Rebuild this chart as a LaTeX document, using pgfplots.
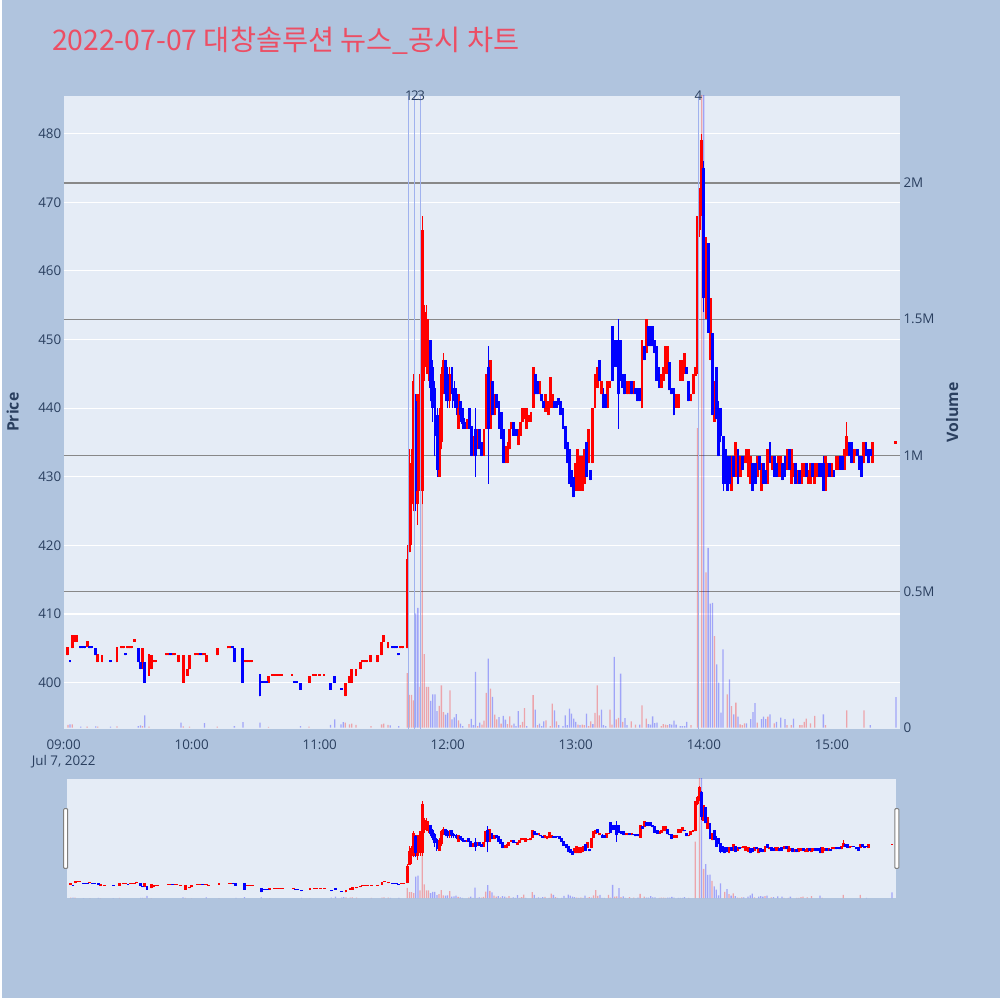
\documentclass[border=0pt]{standalone}
\usepackage{fontspec}
\setmainfont{Open Sans}
\newfontfamily\krfont{Noto Sans CJK KR}
\usepackage{pgfplots}
\usepackage{pgfplotstable}
\pgfplotsset{compat=1.18}
\definecolor{outerbg}{RGB}{176,196,222}
\definecolor{plotbg}{RGB}{229,236,246}
\definecolor{tickcol}{RGB}{42,63,95}
\definecolor{titlecol}{RGB}{236,78,100}
\definecolor{vgrid}{RGB}{136,136,136}
\definecolor{annot}{RGB}{160,178,238}

\pgfplotstableread{
m o h l c
2 404 405.2 404 405.2
4 405 407 405 407
5 406 407 406 407
6 406 407 406 407
11 405.2 406.1 405.2 406.1
16 403 404.2 403 404.2
18 403 404 403 404
25 403 405.2 403 405.2
27 405 405.3 405 405.3
28 405 405.3 405 405.3
30 405 405.3 405 405.3
31 405 405.3 405 405.3
32 405 405.3 405 405.3
33 406 406.3 406 406.3
37 402 405 402 405
40 401 404.2 401 404.2
41 402 404 402 404
42 403 403.3 403 403.3
43 403 403.3 403 403.3
48 404 404.3 404 404.3
49 404 404.3 404 404.3
51 404 404.3 404 404.3
52 404 404.3 404 404.3
54 403 404 403 404
56 400 404 400 404
58 401 402 401 402
59 402 404 402 404
62 404 404.3 404 404.3
63 404 404.3 404 404.3
65 404 404.3 404 404.3
66 404 404.3 404 404.3
67 403 404 403 404
72 404 405 404 405
77 405 405.3 405 405.3
78 405 405.3 405 405.3
85 403 403.3 403 403.3
86 403 403.3 403 403.3
87 403 403.3 403 403.3
88 403 403.3 403 403.3
96 400 401 400 401
98 401 401.3 401 401.3
99 401 401.3 401 401.3
100 401 401.3 401 401.3
101 401 401.3 401 401.3
102 401 401.3 401 401.3
107 401 401.3 401 401.3
115 400 401 400 401
117 401 401.3 401 401.3
118 401 401.3 401 401.3
120 401 401.3 401 401.3
122 401 401.3 401 401.3
132 398 400 398 400
134 400 401 400 401
135 400 402 400 402
137 401 402 401 402
139 402 403 402 403
140 403 403.3 403 403.3
141 403 403.3 403 403.3
142 403 403.3 403 403.3
144 403 404 403 404
147 403 404 403 404
149 404 406 404 406
150 406 407 406 407
152 405 406 405 406
158 405 405.3 405 405.3
159 405 405.3 405 405.3
161 405 420 405 418
162 419 434 419 430
163 426 434 420 432
164 426 445 425 444
166 426 442 423 442
167 428 445 426 445
168 428 468 426 466
169 446 455 444 454
170 446 455 445 453
171 445 453 444 450
176 430 440 430 438
177 435 446 434 445
178 443 448 442 447
181 441 446 440 445
185 437 442 437 442
189 437 438.4 437 438.4
192 433 436 433 436
194 434 437 434 437
197 433 437 433 437
198 437 445 437 445
200 437 447 437 447
202 439 442 439 442
207 432 434.5 432 434.5
208 432 435 432 434.5
209 434 437 434 437
210 437 438 437 438
213 434.6 437 434.6 437
214 436 438 436 438
215 438 440 438 440
216 438.4 440 438.4 440
217 437 440 437 440
218 438 439 438 439
219 438 439.5 438 439.5
220 440 446 440 446
223 442 444 442 444
226 439.5 442 439.5 442
227 439 441 439 441
228 440 444.6 440 444.6
229 440 442 440 442
240 428 432 428 432
241 428 434 428 434
242 428 433 428 433
243 428 433 428 433
244 429 434 429 434
246 432 437 432 437
248 432 440 432 440
249 440 445 440 445
250 443 446 443 446
252 442 444 442 444
255 440 444 440 444
256 443 444 443 444
264 442 444 442 444
265 442 444 442 444
267 442 444 442 444
271 440 450 440 450
273 448 453 448 453
280 443 445 443 445
281 444 446 444 446
282 445 449 445 449
283 445 449 445 449
287 440 442 440 442
288 440 442 440 442
289 444 447 444 447
290 444 447 444 447
291 445 448 445 448
294 441 442 441 442
295 442 445 442 445
296 444.7 446 444.7 446
297 445 468 445 468
298 466 472 465 471
299 471 480 468 479
301 453 465 453 465
303 447 456 447 456
305 438 444 438 444
313 428 433 428 433
315 430 435 430 435
317 430 433 430 433
319 432 433 432 433
320 432 434 432 434
321 430 434 430 434
322 429 433 429 433
325 430 433 430 433
327 428 432 428 432
330 429 434 429 434
332 431 433 431 433
335 430 433 430 433
336 430 433 430 433
339 431 434 431 434
341 429 434 429 434
342 430 432 430 432
344 429 431 429 431
346 429 432 429 432
347 430 432 430 432
349 429 431 429 431
350 429 432 429 432
352 429 432 429 432
353 430 432 430 432
357 428 433 428 433
358 430 432 430 432
360 430 432 430 432
362 431 433 431 433
363 431 433 431 433
366 431 434 431 434
367 433 438 433 436
370 432 434 432 434
371 433 434 433 434
375 432 435 432 435
379 432 435 432 435
390 434.8 435.2 434.8 435.2
}\candR

\pgfplotstableread{
m o h l c
3 403.3 403.3 403 403
8 405.3 405.3 405 405
9 405.3 405.3 405 405
10 405.3 405.3 405 405
12 405.3 405.3 405 405
13 405.3 405.3 405 405
15 405 405 404 404
22 403.3 403.3 403 403
29 404.3 404.3 404 404
35 405 405 403 403
36 403 403 402 402
38 403 403 400 400
50 404.3 404.3 404 404
64 404.3 404.3 404 404
79 405.3 405.3 405 405
80 405 405 403 403
84 405 405 400 400
92 401.2 401.2 398 398
93 400.3 400.3 400 400
94 400.3 400.3 400 400
95 400.3 400.3 400 400
108 400.3 400.3 400 400
109 400.3 400.3 400 400
111 400 400 399 399
125 400 400 399 399
127 401 401 400 400
130 399.3 399.3 399 399
154 405.3 405.3 405 405
155 405.3 405.3 405 405
156 405.3 405.3 405 405
157 404.3 404.3 404 404
165 441 442 425 428
172 450 450 441 443
173 446 447 438 440
174 443 444 433 436
175 439 440 430 431
179 447 447 441 442
180 445 446 440 441
182 446 446 440 442
183 443 444 440 441
184 442 443 439 440
186 441 441 438 439
187 440 440 437 437.7
188 438 438.5 437 437
190 440 440 437 437
191 437.4 437.4 433 433
193 437 440 430 433
195 437 437 434 434
196 435 435 433 433
199 446 449 429 437
201 444 444 439 439
203 442 442 440 440
204 441 441 437 437
205 439.4 439.4 435.5 435.5
206 437 437 432 432
211 438 438 436 436
212 437 437 436 436
221 445 445 442 442
222 444 444 442 442
224 442 442 441 441
225 441 441 440 440
230 441 441 440 440
231 441 441 440 440
232 441.5 441.5 440.5 440.5
233 441 441 439 439
234 440 440 437 437
235 437.4 437.4 434 434
236 435 435 432 432
237 434 434 429 429
238 431 431 428.5 428.5
239 430 430 427 427
245 435 435 430 430
247 431 431 429.5 429.5
251 447 447 444 444
253 442 443 440 440
254 442 442 440 440
257 452 452 444 444
258 450 450 446 446
259 450 450 446 446
260 450 453 437 442
261 450 450 444 444
262 445 445 443 443
263 445 445 442 442
266 444 444 442 442
268 443 443 442 442
269 443 443 441 441
270 443 443 441 441
272 449 449 447 447
274 452 452 449 449
275 452 452 449 449
276 452 452 449 449
277 450 450 448 448
278 449 449 444 444
279 446 446 443 443
284 446.7 446.7 442.6 442.6
285 443 443 442 442
286 443 443 439 439
292 446 446 445 445
293 444 444 441 441
300 475 476 454 456
302 464 464 451 451
304 451 451 439 439
306 446 446 438.4 438.4
307 440 441 433 433
308 440 440 435 436
309 436 436 428 429
310 434 434 429 430
311 433 433 428 428
312 433 433 429 429
314 433 433 430 430
316 434 434 429 429
318 433 433 431 431
323 432 432 428 428
324 432 432 429 429
326 433 433 431 431
328 432 432 429 429
329 431 431 429 429
331 435 435 432 432
333 433 433 430 430
334 432 432 430 430
337 432 432 429.5 429.5
338 433 433 430 430
340 434 434 431 431
343 432 432 429 429
345 431 431 429 429
348 432 432 430 430
351 432 432 430 430
354 432 432 430 430
355 432 432 430 430
356 432 433 428 428
359 432 432 430 430
361 431 431 430 430
364 433 433 431 431
365 433 433 431 431
368 435 435 433 433
369 435 435 432 432
372 434 434 433 433
373 433 433 431 431
374 433 433 430 430
376 435 435 433 433
377 434 434 432 432
378 434 434 433 433
}\candB

\pgfplotstableread{
m v
2 0.010
4 0.012
11 0.004
16 0.004
25 0.005
37 0.006
40 0.004
56 0.005
59 0.004
72 0.004
96 0.003
115 0.004
132 0.018
134 0.012
135 0.015
137 0.010
144 0.006
149 0.012
150 0.015
152 0.010
161 0.20
162 0.12
163 0.12
164 0.10
167 0.15
168 0.87
169 0.27
170 0.15
171 0.15
176 0.08
177 0.155
178 0.057
181 0.137
185 0.027
190 0.013
194 0.006
196 0.011
197 0.026
198 0.128
200 0.143
202 0.048
203 0.030
205 0.015
208 0.013
209 0.041
210 0.008
214 0.009
215 0.021
216 0.072
220 0.119
222 0.009
226 0.027
228 0.006
229 0.088
231 0.023
241 0.011
243 0.011
244 0.009
246 0.006
247 0.023
249 0.054
250 0.155
251 0.045
256 0.066
257 0.011
259 0.030
260 0.036
262 0.021
266 0.023
268 0.011
271 0.082
273 0.033
280 0.006
281 0.013
282 0.011
283 0.009
294 0.009
297 1.10
299 2.80
301 0.57
305 0.336
311 0.122
313 0.079
315 0.092
317 0.012
318 0.009
319 0.016
325 0.018
330 0.040
333 0.016
339 0.009
341 0.009
345 0.009
346 0.009
347 0.021
348 0.033
350 0.016
352 0.043
357 0.009
367 0.063
375 0.063
}\volR

\pgfplotstableread{
m v
3 0.012
8 0.004
15 0.005
22 0.004
35 0.006
36 0.008
38 0.045
55 0.018
66 0.017
80 0.006
84 0.020
92 0.018
111 0.006
125 0.010
127 0.030
130 0.012
131 0.020
153 0.008
157 0.006
165 0.42
166 0.44
172 0.098
173 0.122
174 0.122
175 0.061
179 0.048
180 0.054
182 0.030
183 0.038
184 0.050
186 0.015
187 0.006
191 0.032
192 0.009
193 0.205
195 0.018
199 0.253
201 0.113
204 0.039
206 0.043
207 0.029
211 0.015
212 0.006
213 0.061
217 0.006
221 0.066
223 0.015
224 0.006
225 0.023
230 0.063
232 0.009
234 0.006
235 0.045
236 0.009
237 0.070
238 0.051
239 0.033
240 0.021
242 0.009
245 0.051
248 0.013
252 0.066
253 0.009
254 0.006
258 0.260
261 0.198
263 0.035
264 0.009
270 0.011
274 0.013
275 0.011
276 0.041
277 0.017
278 0.018
284 0.013
285 0.011
286 0.026
287 0.011
289 0.006
290 0.006
291 0.006
292 0.021
300 3.00
302 0.66
303 0.455
304 0.458
306 0.232
307 0.165
308 0.055
309 0.287
312 0.177
314 0.049
316 0.040
320 0.016
322 0.031
323 0.057
324 0.090
327 0.031
328 0.040
329 0.031
331 0.049
334 0.021
336 0.037
338 0.031
342 0.033
356 0.049
378 0.009
390 0.112
}\volB

\tikzset{tickfont/.style={font=\fontsize{6.7}{8}\selectfont, text=tickcol}}
\pgfplotsset{
  wick/.style={only marks, mark=*, mark size=0pt, mark options={draw=none, fill=none}, forget plot, error bars/.cd, y dir=plus, y explicit, error mark=none, error bar style={line width=0.5pt, #1}},
  body/.style={only marks, mark=*, mark size=0pt, mark options={draw=none, fill=none}, forget plot, error bars/.cd, y dir=plus, y explicit, error mark=none, error bar style={line width=1.45pt, #1}},
  volbar/.style={ybar, bar width=0.6, bar shift=0pt, fill=#1, fill opacity=0.3, draw=none, forget plot},
  mainax/.style={at={(31pt,135pt)}, anchor=south west, scale only axis, width=419pt, height=317pt, xmin=0, xmax=392},
  slidax/.style={at={(32.5pt,50pt)}, anchor=south west, scale only axis, width=415.5pt, height=60pt, xmin=0, xmax=392},
}
\newcommand\candles{%
  \addplot[wick=red] table[x=m, y=l, y error plus expr={\thisrow{h}-\thisrow{l}}] {\candR};
  \addplot[body=red] table[x=m, y=o, y error plus expr={max(\thisrow{c}-\thisrow{o},0.3)}] {\candR};
  \addplot[wick=blue] table[x=m, y=l, y error plus expr={\thisrow{h}-\thisrow{l}}] {\candB};
  \addplot[body=blue] table[x=m, y=c, y error plus expr={max(\thisrow{o}-\thisrow{c},0.3)}] {\candB};
}
\newcommand\volumes{%
  \addplot[volbar=red] table[x=m, y=v] {\volR};
  \addplot[volbar=blue] table[x=m, y=v] {\volB};
}

\begin{document}
\begin{tikzpicture}[x=1pt,y=1pt]
\fill[outerbg] (0,0) rectangle (500,500);
\node[anchor=base west, inner sep=0pt, text=titlecol, font=\krfont\fontsize{14.2}{16}\selectfont] at (25,474.6) {2022-07-07 대창솔루션 뉴스\_공시 차트};

% price axis: background, grid, ticks
\begin{axis}[mainax, ymin=393.3, ymax=485.5,
  axis background/.style={fill=plotbg},
  axis line style={draw=none},
  /pgf/number format/assume math mode=true,
  ytick={400,410,...,480}, ymajorgrids, grid style={white, line width=0.6pt},
  xtick={0,60,...,360},
  xticklabels={{09:00\\Jul 7, 2022},10:00,11:00,12:00,13:00,14:00,15:00},
  major tick length=0pt,
  yticklabel style={tickfont, inner sep=0pt, xshift=-1pt},
  xticklabel style={tickfont, inner sep=0pt, yshift=-5.5pt, align=center},
]
\end{axis}

% volume axis
\begin{axis}[mainax, ymin=-0.004, ymax=2.32,
  axis y line*=right, axis x line=none,
  axis line style={draw=none},
  ytick={0.5,1,1.5,2}, yticklabels={0.5M,1M,1.5M,2M},
  extra y ticks={0}, extra y tick labels={0}, extra y tick style={grid=none},
  ymajorgrids, grid style={vgrid, line width=0.6pt},
  major tick length=0pt,
  yticklabel style={tickfont, inner sep=0pt, xshift=1.5pt},
]
\volumes
\end{axis}

% candles and news lines
\begin{axis}[mainax, ymin=393.3, ymax=485.5, hide axis]
\candles
\addplot[annot, line width=0.5pt, forget plot] coordinates {(161.8,393.3) (161.8,485.5)};
\addplot[annot, line width=0.5pt, forget plot] coordinates {(164.2,393.3) (164.2,485.5)};
\addplot[annot, line width=0.5pt, forget plot] coordinates {(167.4,393.3) (167.4,485.5)};
\addplot[annot, line width=0.5pt, forget plot] coordinates {(297.5,393.3) (297.5,485.5)};
\end{axis}

\begin{axis}[mainax, ymin=393.3, ymax=485.5, hide axis, clip=false]
\node[tickfont, inner sep=0pt] at (axis cs:161.8,485.5) {1};
\node[tickfont, inner sep=0pt] at (axis cs:164.6,485.5) {2};
\node[tickfont, inner sep=0pt] at (axis cs:167.6,485.5) {3};
\node[tickfont, inner sep=0pt] at (axis cs:297.5,485.5) {4};
\end{axis}

% range slider
\begin{axis}[slidax, ymin=-0.004, ymax=2.32,
  axis background/.style={fill=plotbg},
  axis line style={draw=none}, xtick=\empty, ytick=\empty]
\volumes
\end{axis}
\begin{axis}[slidax, ymin=393.3, ymax=485.5, hide axis]
\candles
\end{axis}
\draw[gray, fill=white, line width=0.5pt, rounded corners=0.5pt] (31,65) rectangle (33,95);
\draw[gray, fill=white, line width=0.5pt, rounded corners=0.5pt] (447.3,65) rectangle (449.3,95);

\node[rotate=90, text=tickcol, font=\bfseries\fontsize{7.9}{9}\selectfont] at (5.5,293.5) {Price};
\node[rotate=90, text=tickcol, font=\bfseries\fontsize{7.9}{9}\selectfont] at (476,293.5) {Volume};
\end{tikzpicture}
\end{document}
